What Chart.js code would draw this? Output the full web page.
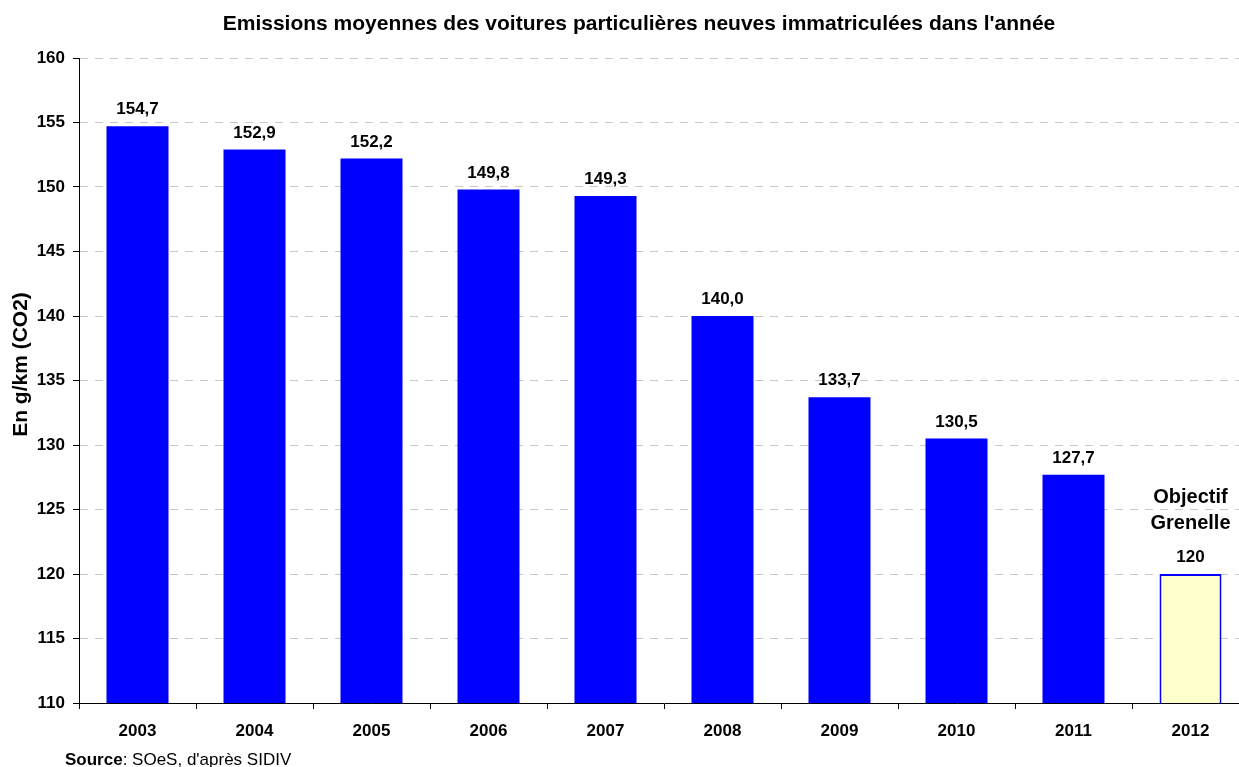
<!DOCTYPE html>
<html><head><meta charset="utf-8">
<script src="https://cdn.jsdelivr.net/npm/chart.js@4/dist/chart.umd.min.js"></script>
<style>html,body{margin:0;padding:0;overflow:hidden;background:#fff;width:1239px;height:767px}canvas{display:block}</style>
</head><body>
<canvas id="c" width="1249" height="767"></canvas>
<script>
const chartTitle = "Emissions moyennes des voitures particulières neuves immatriculées dans l'année";
const yAxisTitle = "En g/km (CO2)";
const years = ['2003','2004','2005','2006','2007','2008','2009','2010','2011','2012'];
const emissions = [154.7, 152.9, 152.2, 149.8, 149.3, 140.0, 133.7, 130.5, 127.7, 120];
const valueLabels = ['154,7','152,9','152,2','149,8','149,3','140,0','133,7','130,5','127,7','120'];
const targetNote = ['Objectif', 'Grenelle'];
const sourceBold = 'Source';
const sourceRest = ": SOeS, d'après SIDIV";
const yMin = 110, yMax = 160, yStep = 5;

const FF = '"Liberation Sans", Arial, sans-serif';
const isTarget = years.map((y, i) => i === years.length - 1);

const textPlugin = {
  id: 'texts',
  afterDatasetsDraw(chart) {
    const ctx = chart.ctx;
    const meta = chart.getDatasetMeta(0);
    ctx.save();
    ctx.fillStyle = '#000';
    ctx.textAlign = 'center';
    ctx.textBaseline = 'alphabetic';
    ctx.font = 'bold 17px ' + FF;
    meta.data.forEach((bar, i) => {
      ctx.fillText(valueLabels[i], bar.x, bar.y - 12);
    });
    const last = meta.data[meta.data.length - 1];
    ctx.font = 'bold 20px ' + FF;
    ctx.fillText(targetNote[0], last.x, last.y - 71);
    ctx.fillText(targetNote[1], last.x, last.y - 45);
    ctx.font = 'bold 21px ' + FF;
    ctx.fillText(chartTitle, 639, 30);
    ctx.save();
    ctx.translate(21.5, 364.5);
    ctx.rotate(-Math.PI / 2);
    ctx.textBaseline = 'middle';
    ctx.font = 'bold 21px ' + FF;
    ctx.fillText(yAxisTitle, 0, 0);
    ctx.restore();
    ctx.textAlign = 'left';
    ctx.font = 'bold 17px ' + FF;
    ctx.fillText(sourceBold, 65, 765);
    const w = ctx.measureText(sourceBold).width;
    ctx.font = '17px ' + FF;
    ctx.fillText(sourceRest, 65 + w, 765);
    ctx.restore();
  }
};

new Chart(document.getElementById('c'), {
  type: 'bar',
  data: {
    labels: years,
    datasets: [{
      data: emissions,
      backgroundColor: isTarget.map(t => t ? '#ffffcc' : '#0000ff'),
      borderColor: '#0000ff',
      borderWidth: isTarget.map(t => t ? 2 : 0),
      categoryPercentage: 1,
      barPercentage: 0.53
    }]
  },
  options: {
    responsive: false,
    devicePixelRatio: 1,
    animation: false,
    layout: { padding: { top: 58, left: 0, right: 0, bottom: 0 } },
    plugins: { legend: { display: false }, tooltip: { enabled: false }, title: { display: false } },
    scales: {
      x: {
        afterFit(s) { s.height = 64; },
        grid: { display: true, drawOnChartArea: false, drawTicks: true, tickLength: 6, tickColor: '#000', offset: true },
        border: { display: true, color: '#000', width: 1 },
        ticks: { color: '#000', font: { family: FF, size: 17, weight: 'bold' }, padding: 12, maxRotation: 0, autoSkip: false }
      },
      y: {
        min: yMin, max: yMax,
        afterFit(s) { s.width = 79; },
        grid: { color: '#c8c8c8', lineWidth: 1, drawTicks: true, tickLength: 6, tickColor: '#000', tickBorderDash: [] },
        border: { display: true, color: '#000', width: 1, dash: [8, 7] },
        ticks: { stepSize: yStep, color: '#000', font: { family: FF, size: 17, weight: 'bold' }, padding: 8 }
      }
    }
  },
  plugins: [textPlugin]
});
</script>
</body></html>
